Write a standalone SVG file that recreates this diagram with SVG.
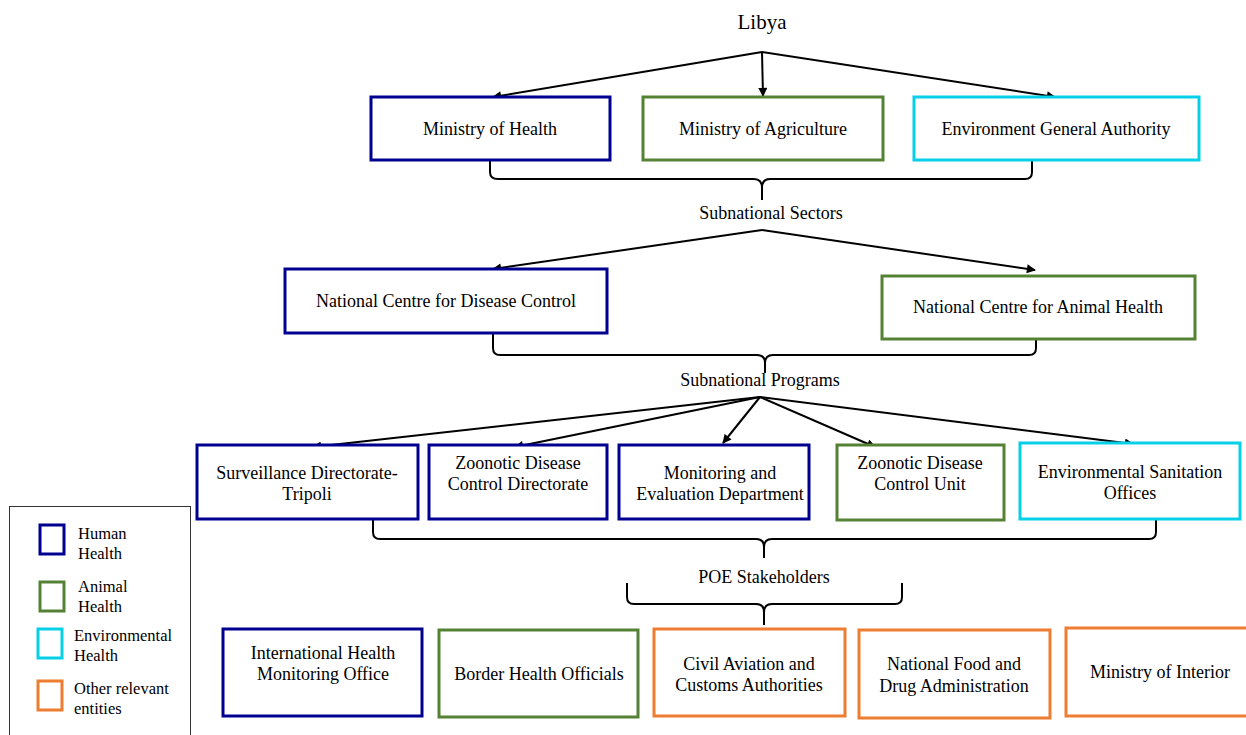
<svg xmlns="http://www.w3.org/2000/svg" width="1246" height="735" viewBox="0 0 1246 735">
<style>
text{font-family:"Liberation Serif","Times New Roman",Times,"DejaVu Serif",serif;fill:#000}
.t{font-size:18px;text-anchor:middle}
.lbl{font-size:18px;text-anchor:middle}
.lg{font-size:16.5px}
.b{fill:#fff;stroke-width:3}
.hh{stroke:#000090}
.ah{stroke:#548235}
.eh{stroke:#05D0E8}
.ot{stroke:#ED7D31}
.c{fill:none;stroke:#000;stroke-width:2}
</style>
<defs>
<marker id="arr" viewBox="0 0 10 10" refX="9" refY="5" markerWidth="10" markerHeight="9" orient="auto" markerUnits="userSpaceOnUse">
<path d="M0,0 L10,5 L0,10 z" fill="#000"/>
</marker>
</defs>
<rect width="1246" height="735" fill="#fff"/>

<g id="title"><text class="t" x="762" y="29" style="font-size:21px">Libya</text></g>

<g id="connectors">
<path class="c" marker-end="url(#arr)" d="M762,52 L493,97"/>
<path class="c" marker-end="url(#arr)" d="M762,52 L763,96"/>
<path class="c" marker-end="url(#arr)" d="M762,52 L1055,97"/>
<path class="c" d="M490,160 V172 Q490,179 498,179 H754 Q762,179 762,188 V200 M762,188 Q762,179 770,179 H1025 Q1032,179 1032,172 V160"/>
<path class="c" marker-end="url(#arr)" d="M762,230 L493,269"/>
<path class="c" marker-end="url(#arr)" d="M762,230 L1035,270"/>
<path class="c" d="M493,333 V348 Q493,355 500,355 H757 Q765,355 765,363 V373 M765,363 Q765,355 773,355 H1029 Q1036,355 1036,348 V333"/>
<path class="c" marker-end="url(#arr)" d="M760,397 L313,447"/>
<path class="c" marker-end="url(#arr)" d="M760,397 L515,447"/>
<path class="c" marker-end="url(#arr)" d="M760,397 L723,443"/>
<path class="c" marker-end="url(#arr)" d="M760,397 L875,447"/>
<path class="c" marker-end="url(#arr)" d="M760,397 L1133,444"/>
<path class="c" d="M373,519 V532 Q373,539 380,539 H756 Q764,539 764,547 V558 M764,547 Q764,539 772,539 H1149 Q1156,539 1156,532 V519"/>
<path class="c" d="M627,583 V597 Q627,604 634,604 H756 Q764,604 764,612 V625 M764,612 Q764,604 772,604 H895 Q902,604 902,597 V583"/>
</g>

<g id="lbl-sectors"><text class="lbl" x="771" y="219">Subnational Sectors</text></g>
<g id="lbl-programs"><text class="lbl" x="760" y="386">Subnational Programs</text></g>
<g id="lbl-poe"><text class="lbl" x="764" y="583">POE Stakeholders</text></g>

<g id="n-moh"><rect class="b hh" x="371" y="97" width="239" height="63"/><text class="t" x="490" y="135">Ministry of Health</text></g>
<g id="n-moa"><rect class="b ah" x="643" y="97" width="240" height="63"/><text class="t" x="763" y="135">Ministry of Agriculture</text></g>
<g id="n-ega"><rect class="b eh" x="914" y="97" width="285" height="63"/><text class="t" x="1056" y="135">Environment General Authority</text></g>

<g id="n-ncdc"><rect class="b hh" x="285" y="269" width="322" height="64"/><text class="t" x="446" y="307">National Centre for Disease Control</text></g>
<g id="n-ncah"><rect class="b ah" x="882" y="276" width="313" height="63"/><text class="t" x="1038" y="313">National Centre for Animal Health</text></g>

<g id="n-surv"><rect class="b hh" x="197" y="445" width="221" height="74"/><text class="t" x="307" y="479">Surveillance Directorate-</text><text class="t" x="307" y="500">Tripoli</text></g>
<g id="n-zdcd"><rect class="b hh" x="429" y="445" width="178" height="74"/><text class="t" x="518" y="469">Zoonotic Disease</text><text class="t" x="518" y="490">Control Directorate</text></g>
<g id="n-me"><rect class="b hh" x="619" y="445" width="190" height="74"/><text class="t" x="720" y="479">Monitoring and</text><text class="t" x="720" y="500">Evaluation Department</text></g>
<g id="n-zdcu"><rect class="b ah" x="837" y="445" width="167" height="75"/><text class="t" x="920" y="469">Zoonotic Disease</text><text class="t" x="920" y="490">Control Unit</text></g>
<g id="n-eso"><rect class="b eh" x="1020" y="443" width="220" height="76"/><text class="t" x="1130" y="478">Environmental Sanitation</text><text class="t" x="1130" y="499">Offices</text></g>

<g id="n-ihmo"><rect class="b hh" x="223" y="629" width="199" height="87"/><text class="t" x="323" y="659">International Health</text><text class="t" x="323" y="680">Monitoring Office</text></g>
<g id="n-bho"><rect class="b ah" x="439" y="630" width="199" height="87"/><text class="t" x="539" y="680">Border Health Officials</text></g>
<g id="n-ca"><rect class="b ot" x="654" y="629" width="191" height="87"/><text class="t" x="749" y="670">Civil Aviation and</text><text class="t" x="749" y="691">Customs Authorities</text></g>
<g id="n-nfda"><rect class="b ot" x="859" y="630" width="191" height="88"/><text class="t" x="954" y="670">National Food and</text><text class="t" x="954" y="692">Drug Administration</text></g>
<g id="n-moi"><rect class="b ot" x="1066" y="628" width="190" height="88"/><text class="t" x="1160" y="678">Ministry of Interior</text></g>

<g id="legend">
<rect x="9.5" y="506.5" width="181" height="240" fill="#fff" stroke="#333" stroke-width="1"/>
<rect x="40" y="525" width="24" height="29" fill="#fff" stroke="#000090" stroke-width="3"/>
<text class="lg" x="78" y="539">Human</text><text class="lg" x="78" y="559">Health</text>
<rect x="40" y="582" width="24" height="29" fill="#fff" stroke="#548235" stroke-width="3"/>
<text class="lg" x="78" y="592">Animal</text><text class="lg" x="78" y="612">Health</text>
<rect x="38" y="629" width="24" height="29" fill="#fff" stroke="#05D0E8" stroke-width="3"/>
<text class="lg" x="74" y="641">Environmental</text><text class="lg" x="74" y="661">Health</text>
<rect x="38" y="681" width="24" height="29" fill="#fff" stroke="#ED7D31" stroke-width="3"/>
<text class="lg" x="74" y="694">Other relevant</text><text class="lg" x="74" y="714">entities</text>
</g>
</svg>
